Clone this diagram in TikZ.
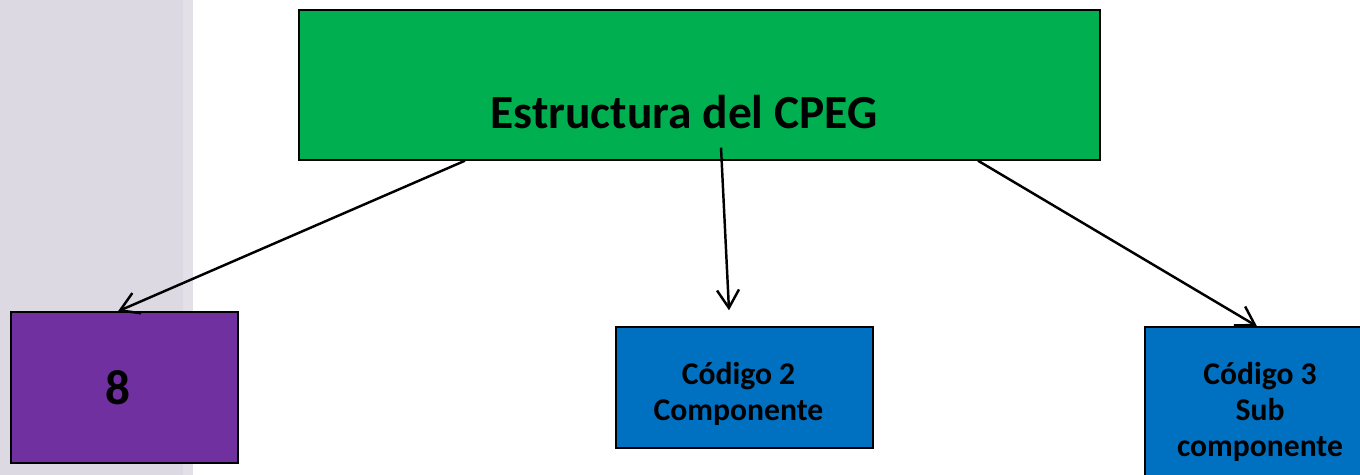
\documentclass[tikz,border=0pt]{standalone}
\usepackage{fontspec}
\setmainfont{Carlito}
\usetikzlibrary{arrows.meta}
\usetikzlibrary{calc}

\definecolor{bandgray}{HTML}{DDD9E3}
\definecolor{bandedge}{HTML}{E3E0E8}
\definecolor{cpeggreen}{HTML}{00AF50}
\definecolor{boxpurple}{HTML}{7030A0}
\definecolor{boxblue}{HTML}{0070C0}

\tikzset{
  box/.style={draw=black, line width=0.8pt, inner sep=0pt, align=center, font=\bfseries\fontsize{18}{20.4}\selectfont},
  arr/.style={-{Straight Barb[length=3.6mm,width=4.4mm]}, line width=1.4pt}
}

\begin{document}
\begin{tikzpicture}
        \useasboundingbox (0,0) rectangle (27.2,-9.5);
        \fill[bandgray] (0,0) rectangle (3.7,-9.5);
        \fill[bandedge] (3.66,0) rectangle (3.86,-9.5);

        \node[box, fill=cpeggreen, minimum width=16.02cm, minimum height=3cm] (cpeg) at (13.99,-1.7) {};
        \node[font=\bfseries\fontsize{27}{31}\selectfont] (cpegtxt) at (13.68,-2.24) {Estructura del CPEG};
        \node[box, fill=boxpurple, minimum width=4.54cm, minimum height=3.02cm, font=\bfseries\fontsize{28}{32}\selectfont] (ocho) at (2.49,-7.75) {\kern-0.28cm8};
        \node[box, fill=boxblue, minimum width=5.14cm, minimum height=2.42cm] (comp) at (14.89,-7.75) {};
        \node[box, draw=none] (comptxt) at (14.77,-7.87) {Código 2\\Componente};
        \node[box, fill=boxblue, minimum width=4.6cm, minimum height=3.4cm] (subc) at (25.2,-8.24) {Código 3\\Sub\\componente};

        \draw[arr] ($(cpeg.south)+(-4.69,0)$) -- ($(ocho.north)+(-0.13,0)$);
        \draw[arr] ($(cpeg.south)+(0.43,0.26)$) -- ($(comp.north)+(-0.31,0.32)$);
        \draw[arr] ($(cpeg.south)+(5.57,0)$) -- ($(subc.north)+(-0.06,0)$);
    \end{tikzpicture}
\end{document}
